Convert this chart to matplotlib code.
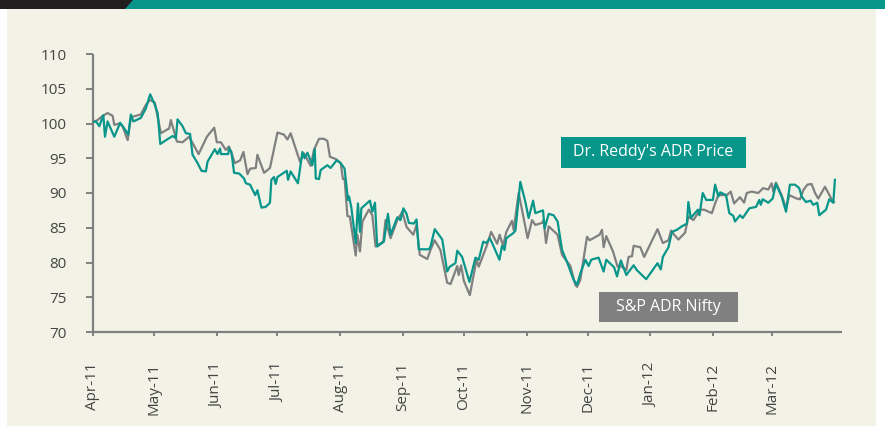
import numpy as np
import matplotlib
matplotlib.use("Agg")
import matplotlib.pyplot as plt
import matplotlib.dates as mdates
from matplotlib.patches import Rectangle, Polygon

plt.rcParams['font.family'] = ['Open Sans', 'DejaVu Sans']

# days since 2011-04-01 and index values (base 100)
reddy_days = [0, 1.5, 3.1, 5.1, 5.9, 7.2, 10.5, 13.4, 15.4, 17.4, 18.7, 19.9, 23.6, 26.1, 28.2, 30.2,
              31.9, 33.2, 36, 39.3, 40.9, 41.7, 44.2, 45.8, 47.9, 49.1, 51.6, 53.5, 55.7, 56.5, 60.1,
              61.4, 62.7, 63.1, 66.7, 67.1, 68.3, 69.6, 72.1, 74.5, 75.4, 77.5, 80, 81.1, 83.1, 85.2,
              87.3, 88, 89.3, 90.1, 91, 95.6, 96.2, 97.5, 101.1, 103.3, 104.4, 105.8, 108.2, 109.4,
              109.9, 111.5, 112.3, 115.6, 117.2, 120.2, 122.2, 124.1, 125.8, 126.3, 127.4, 129.6,
              130.7, 131.7, 132.4, 136.6, 137.8, 139.1, 140.2, 143.5, 145.5, 146.8, 150.1, 151.7,
              153.1, 154.7, 155.8, 158.3, 159.6, 160.7, 165.7, 166.5, 168.6, 172.3, 174.7, 176,
              178.8, 179.7, 182.1, 185.7, 188.7, 190.3, 192.5, 194.1, 195.7, 196.9, 200.5, 201.8,
              203, 203.9, 207.2, 208.4, 210.8, 213.3, 214.9, 217.1, 218.2, 222, 222.8, 224.8, 227.2,
              229.2, 231.4, 233.8, 237.1, 238.8, 240.4, 242.9, 244.5, 245.8, 249.4, 251.9, 253.2,
              257.1, 258.5, 260.4, 263.1, 266.7, 268.3, 272.9, 278.5, 280.1, 281.1, 283.9, 285.6,
              288, 290.5, 293, 293.7, 294.9, 298.4, 299.2, 300.8, 302.5, 305.8, 306.9, 308.5, 309.4,
              312.3, 313.9, 315.9, 316.7, 319.2, 320.5, 323.8, 327.1, 328.7, 329.4, 330.4, 333.1,
              335.3, 336.9, 339.7, 341.9, 343.8, 346.3, 348.4, 349.6, 351.7, 354, 355.3, 357.3,
              358.3, 361.6, 363.2, 365.2, 366]
reddy_vals = [100.2, 100.3, 99.6, 101.2, 98.1, 100.3, 98.1, 100.1, 99.3, 98.4, 101.3, 100.3, 100.8,
              102.2, 104.2, 102.9, 101.5, 97.05, 97.6, 98.2, 97.9, 100.6, 99.6, 98.6, 98.5, 95.5,
              94.3, 93.2, 93.1, 94.5, 96.3, 95.6, 96.4, 95.6, 95.6, 96.4, 95.9, 92.9, 92.8, 92.1,
              91.4, 91.2, 89.7, 90.4, 87.9, 88.0, 88.6, 91.9, 92.3, 91.3, 92.3, 93.2, 91.9, 93.1,
              91.4, 95.9, 95.0, 95.8, 94.0, 96.3, 92.1, 92.0, 93.3, 94.0, 93.6, 94.7, 94.3, 93.5,
              89.0, 89.5, 88.0, 82.8, 88.5, 84.4, 87.8, 88.9, 87.3, 88.6, 82.3, 83.0, 87.0, 84.0,
              86.5, 86.1, 87.8, 87.0, 85.7, 85.6, 86.2, 81.9, 81.9, 82.3, 84.8, 83.3, 78.7, 79.4,
              79.9, 81.7, 80.8, 77.2, 80.7, 80.4, 83.0, 82.8, 83.5, 82.8, 80.4, 82.4, 81.8, 83.5,
              84.2, 84.6, 91.6, 88.7, 86.4, 88.9, 87.1, 87.5, 84.9, 87.0, 86.8, 85.9, 81.8, 80.1,
              77.5, 76.8, 78.4, 80.4, 79.5, 80.4, 80.7, 78.7, 80.4, 79.3, 78.0, 80.3, 78.2, 79.6,
              78.9, 77.6, 79.9, 79.0, 80.8, 82.2, 84.4, 84.7, 85.2, 85.6, 88.7, 86.4, 87.6, 86.8,
              90.0, 89.0, 89.0, 91.2, 89.5, 90.1, 89.7, 87.1, 86.7, 85.9, 86.8, 86.4, 87.8, 88.0,
              89.0, 88.3, 89.1, 88.6, 89.2, 91.3, 89.5, 87.3, 91.2, 91.2, 90.7, 89.5, 88.7, 88.9,
              88.3, 88.6, 86.8, 87.6, 89.1, 88.6, 91.9]

nifty_days = [0, 2.3, 4.8, 7.2, 9.7, 10.5, 13, 14.6, 17.1, 18.7, 23.6, 26.1, 28.2, 30.5, 33.5, 37.6,
              38.4, 41.4, 44.2, 47.4, 52.1, 56.2, 59.8, 61.1, 63.1, 65.5, 67.1, 70, 72.6, 74.2, 76.2,
              77.5, 80.3, 81.1, 84.4, 87.3, 91, 94.2, 95.9, 97.5, 102.1, 104.1, 107.4, 109, 111.5,
              113.9, 115.6, 116.9, 119.7, 122.2, 123.3, 124.1, 125.5, 126.7, 129.6, 130.4, 131.7,
              132.9, 136.1, 137.8, 139.4, 143.2, 144.3, 146.8, 150.1, 152.6, 154.7, 158, 159.6,
              161.2, 164.9, 166.5, 168.5, 171.4, 174.7, 176.4, 179.7, 180.4, 181.6, 182.9, 185.9,
              189.2, 190.3, 194.1, 196.4, 199.4, 200.6, 202.3, 203.9, 206.7, 207.5, 210, 214.4,
              216.6, 218.2, 221.5, 222.3, 223.5, 224.8, 229.2, 231.4, 235.5, 237.9, 238.8, 240.4,
              243.7, 245, 249.9, 251.1, 251.9, 253.2, 256.5, 258.8, 259.8, 263.1, 264.2, 265.9,
              266.7, 270, 271.9, 278.5, 281.1, 283.9, 285.2, 286.7, 288.8, 292.1, 293.7, 296.2,
              299.5, 301.5, 305.3, 306.9, 308.5, 312.7, 314.6, 316.3, 319.2, 321.2, 322.5, 324.9,
              328.2, 330.6, 333.1, 334.8, 335.6, 336.9, 339.7, 341.9, 343.5, 347.1, 348.8, 350.4,
              352.4, 354.5, 356.2, 357.8, 361.1, 364.4, 365.5]
nifty_vals = [100.2, 100.5, 101.1, 101.5, 101.1, 99.8, 100.0, 99.6, 97.6, 100.9, 101.3, 102.7, 103.4,
              103.0, 98.6, 99.3, 100.5, 97.4, 97.3, 98.1, 95.6, 98.1, 99.4, 97.3, 97.3, 96.2, 96.7,
              94.3, 94.7, 95.9, 92.7, 93.5, 93.6, 95.5, 92.9, 93.6, 98.7, 98.4, 97.7, 98.6, 94.5,
              95.7, 93.9, 96.2, 97.8, 97.8, 97.5, 95.2, 94.9, 94.3, 92.0, 92.1, 86.7, 86.6, 81.0,
              84.0, 81.6, 85.9, 87.6, 86.8, 82.3, 83.0, 86.1, 83.5, 86.1, 87.3, 85.1, 84.0, 85.4,
              81.1, 80.5, 81.8, 83.2, 81.8, 77.1, 76.9, 79.5, 78.2, 79.6, 77.4, 75.3, 80.4, 79.4,
              82.3, 84.4, 82.7, 84.0, 82.4, 84.4, 86.0, 84.7, 90.0, 83.5, 86.1, 85.4, 85.7, 86.1,
              82.8, 85.2, 84.0, 81.1, 79.5, 76.8, 76.5, 77.5, 83.7, 83.2, 84.0, 84.7, 82.2, 83.8,
              81.6, 79.4, 79.6, 78.9, 80.8, 80.9, 82.4, 82.2, 80.8, 84.8, 82.8, 83.2, 84.6, 84.0,
              83.3, 84.3, 86.6, 86.1, 87.6, 87.6, 87.1, 88.5, 89.7, 89.7, 90.2, 88.5, 89.4, 88.6,
              90.0, 90.2, 90.0, 90.7, 90.5, 91.4, 90.2, 91.5, 89.7, 87.8, 89.7, 89.2, 89.1, 90.4,
              91.2, 91.3, 90.0, 89.2, 90.9, 89.1, 88.7]

# month ticks shown on the x axis
tick_months = ['2011-04', '2011-05', '2011-06', '2011-07', '2011-08', '2011-09',
               '2011-10', '2011-11', '2011-12', '2012-01', '2012-02', '2012-03']

start = np.datetime64('2011-04-01')
reddy_x = mdates.date2num(start) + np.array(reddy_days)
nifty_x = mdates.date2num(start) + np.array(nifty_days)
tick_x = [mdates.date2num(np.datetime64(m + '-01')) for m in tick_months]

teal = '#08968b'
grey = '#808080'
cream = '#f3f2e7'

W, H = 885, 426
fig = plt.figure(figsize=(W / 100, H / 100), dpi=100, facecolor='white')

# page decorations (pixel coords converted to figure fractions)
def px(x, y):
    return (x / W, 1 - y / H)

fig.patches.append(Rectangle(px(7, H), (876 - 7) / W, (H - 9) / H, transform=fig.transFigure,
                             facecolor=cream, edgecolor='none', zorder=-3))
fig.patches.append(Rectangle(px(0, 9), 1, 9 / H, transform=fig.transFigure,
                             facecolor=teal, edgecolor='none', zorder=-3))
fig.patches.append(Polygon([px(0, 0), px(133, 0), px(125, 9), px(0, 9)], closed=True,
                           transform=fig.transFigure, facecolor='#231f20', edgecolor='none', zorder=-2))

ax = fig.add_axes([93 / W, 1 - 332 / H, (842 - 93) / W, (332 - 54) / H])
ax.set_facecolor('none')
ax.set_zorder(1)

ax.plot(nifty_x, nifty_vals, color=grey, linewidth=1.6, zorder=2)
ax.plot(reddy_x, reddy_vals, color=teal, linewidth=1.6, zorder=3)

ax.set_ylim(70, 110)
ax.set_yticks(np.arange(70, 111, 5))
ax.set_xlim(mdates.date2num(start), mdates.date2num(start) + 369.5)
ax.set_xticks(tick_x)
ax.xaxis.set_major_formatter(mdates.DateFormatter('%b-%y'))

for s in ['top', 'right']:
    ax.spines[s].set_visible(False)
for s in ['left', 'bottom']:
    ax.spines[s].set_color(grey)
    ax.spines[s].set_linewidth(1.6)
    ax.spines[s].set_capstyle('butt')

ax.tick_params(axis='y', direction='out', length=5, width=1.4, color=grey, pad=14,
               labelsize=11, labelcolor='#444444')
ax.tick_params(axis='x', direction='out', length=3, width=1.4, color=grey, pad=19,
               labelsize=11, labelcolor='#444444', labelrotation=90)

# legend boxes
def label_box(x0, y0, x1, y1, text, color):
    fig.patches.append(Rectangle(px(x0, y1), (x1 - x0) / W, (y1 - y0) / H,
                                 transform=fig.transFigure, facecolor=color, edgecolor='none', zorder=4))
    cx, cy = px((x0 + x1) / 2, (y0 + y1) / 2)
    fig.text(cx, cy, text, color='white', fontsize=11.5, ha='center', va='center', zorder=5)

label_box(561, 137, 746, 168, "Dr. Reddy's ADR Price", teal)
label_box(599, 292, 738, 322, "S&P ADR Nifty", grey)

fig.savefig('out.png', dpi=100, facecolor=fig.get_facecolor())
